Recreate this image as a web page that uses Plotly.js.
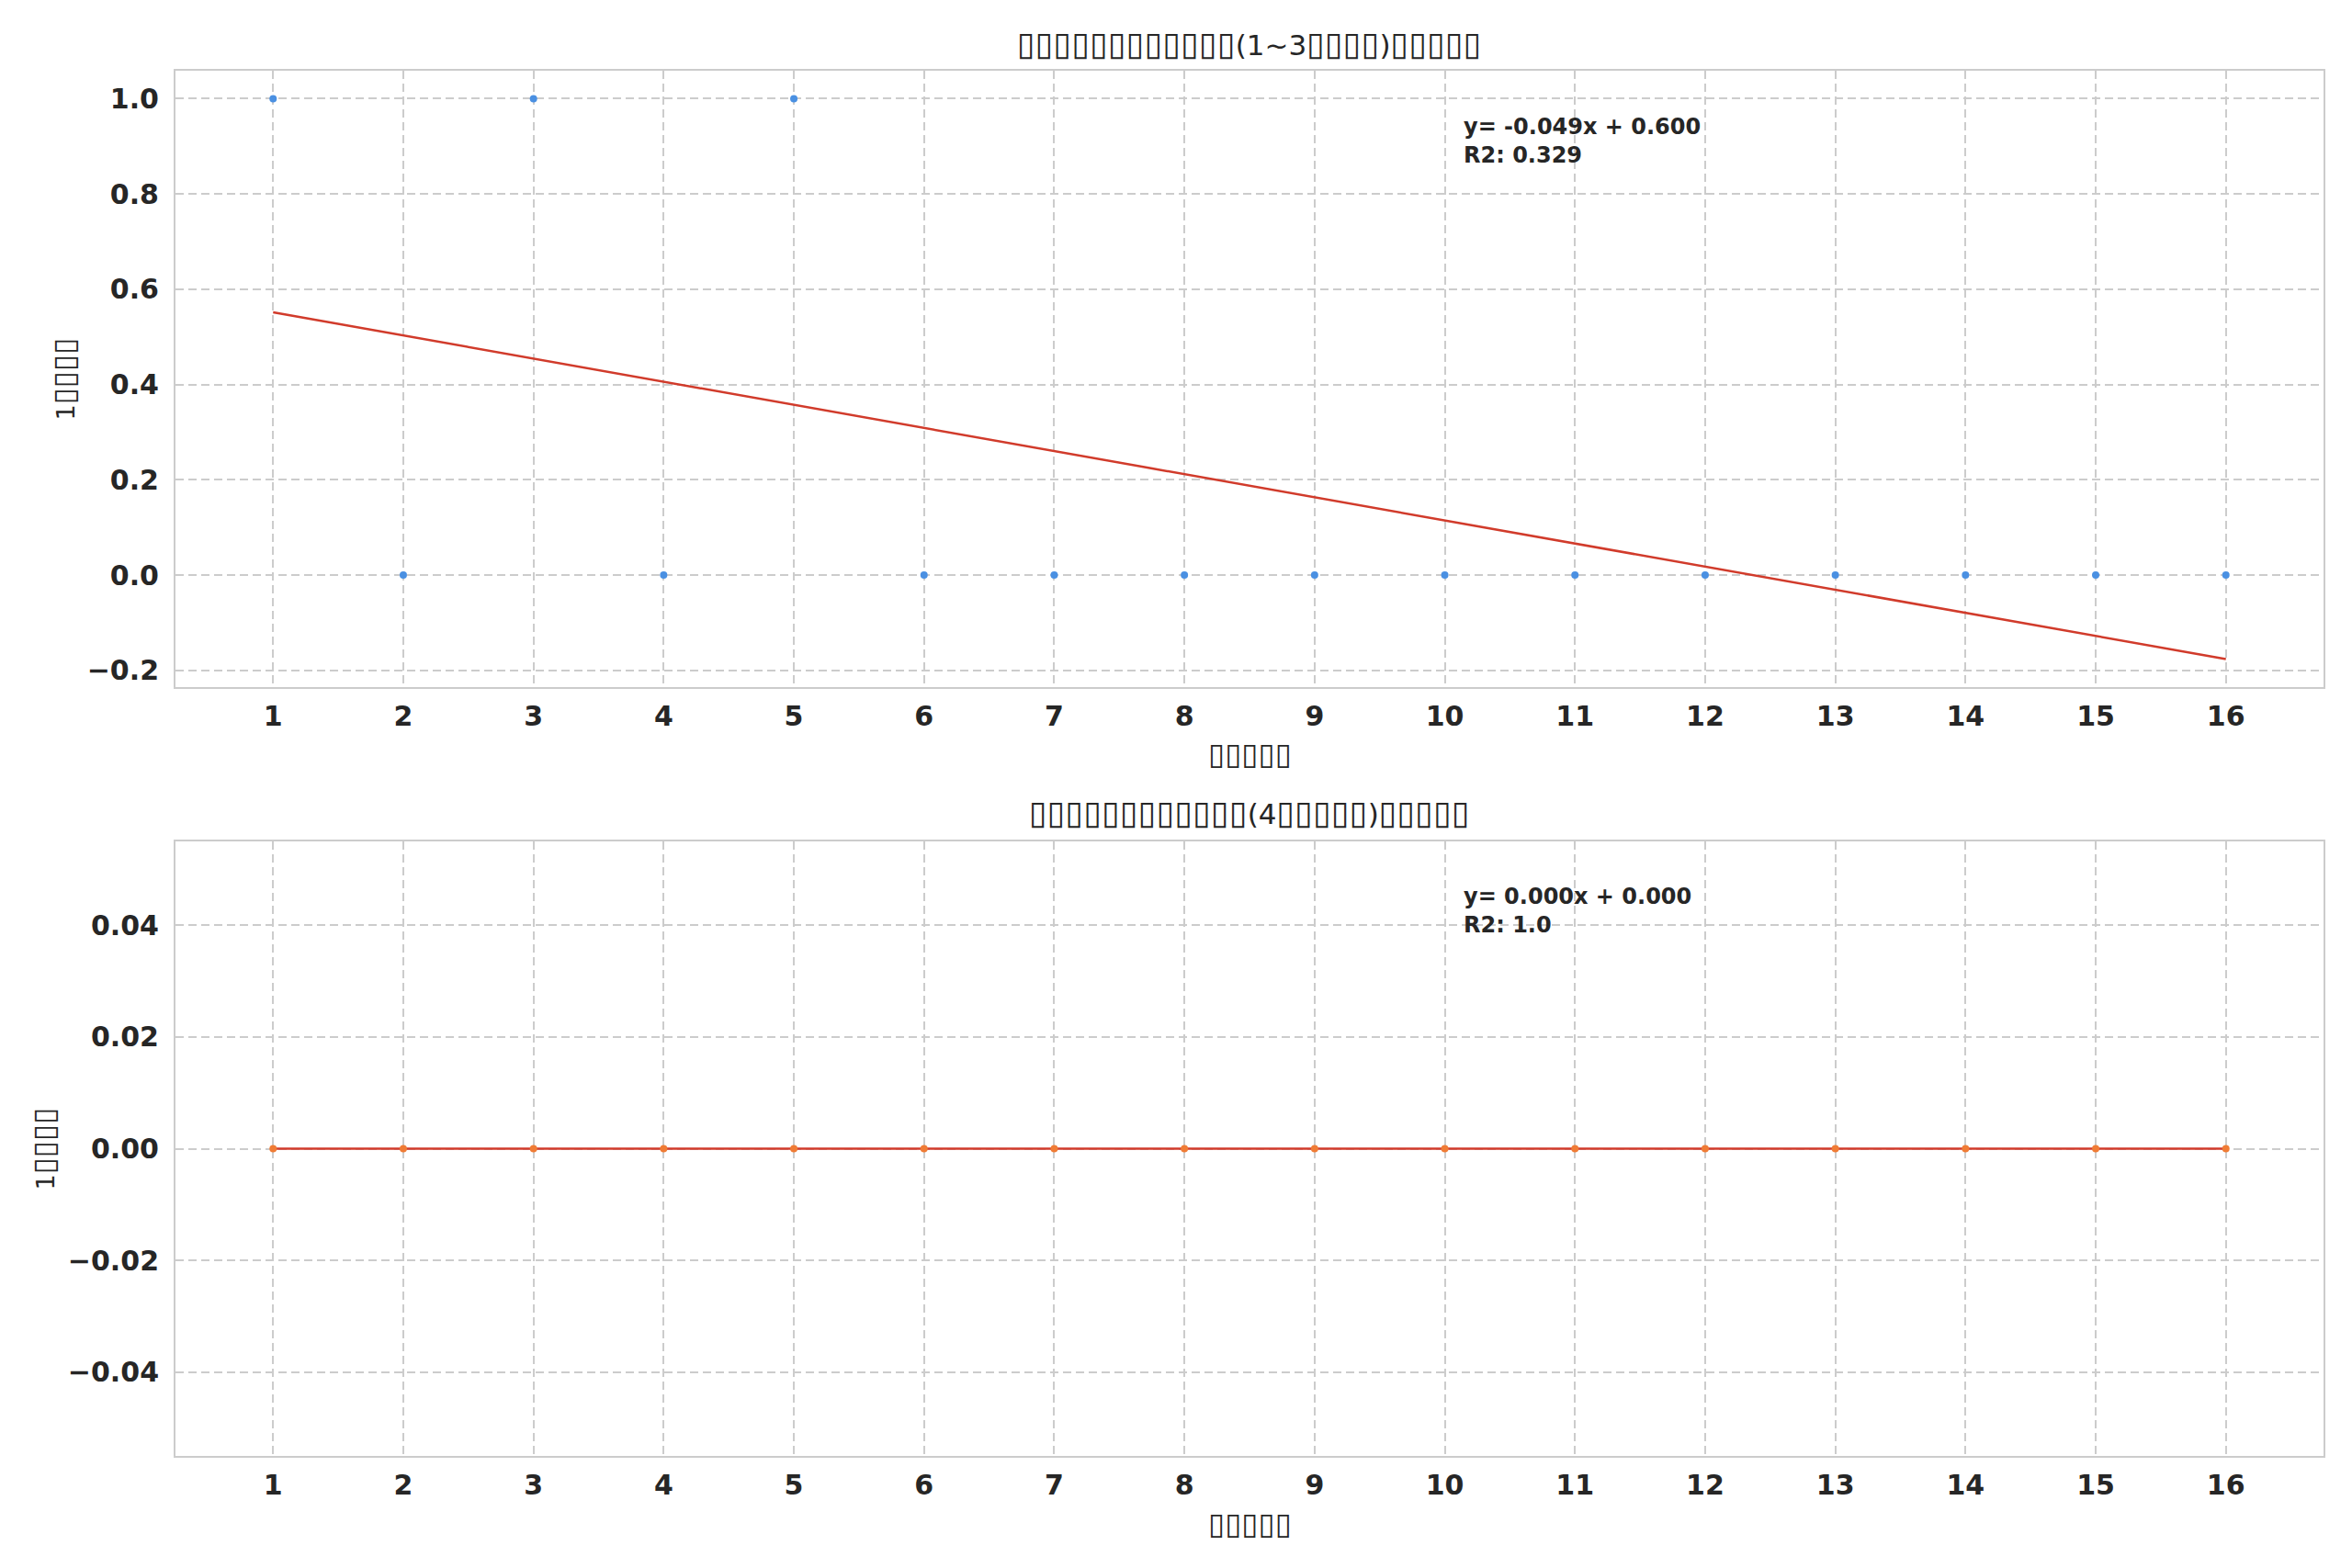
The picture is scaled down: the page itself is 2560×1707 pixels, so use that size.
<!DOCTYPE html>
<html>
<head>
<meta charset="utf-8">
<script src="https://cdn.plot.ly/plotly-3.0.1.min.js"></script>
<style>
  html, body { margin: 0; padding: 0; background: #ffffff; }
  #chart { width: 2560px; height: 1707px; }
</style>
</head>
<body>
<div id="chart"></div>
<script>
// ---------------- data ----------------
const sessions = [1, 2, 3, 4, 5, 6, 7, 8, 9, 10, 11, 12, 13, 14, 15, 16];
const rateGroupA = [1, 0, 1, 0, 1, 0, 0, 0, 0, 0, 0, 0, 0, 0, 0, 0];
const rateGroupB = [0, 0, 0, 0, 0, 0, 0, 0, 0, 0, 0, 0, 0, 0, 0, 0];

const titleA = '▯▯▯▯▯▯▯▯▯▯▯▯(1~3▯▯▯▯)▯▯▯▯▯';
const titleB = '▯▯▯▯▯▯▯▯▯▯▯▯(4▯▯▯▯▯)▯▯▯▯▯';
const xLabel = '▯▯▯▯▯';
const yLabel = '1▯▯▯▯';

const xTickVals = sessions;
const xTickText = sessions.map(String);
const yTickValsA = [-0.2, 0.0, 0.2, 0.4, 0.6, 0.8, 1.0];
const yTickTextA = ['\u22120.2', '0.0', '0.2', '0.4', '0.6', '0.8', '1.0'];
const yTickValsB = [-0.04, -0.02, 0.0, 0.02, 0.04];
const yTickTextB = ['\u22120.04', '\u22120.02', '0.00', '0.02', '0.04'];

// ---------------- least squares fit ----------------
function fit(x, y) {
  const n = x.length;
  const mx = x.reduce((a, b) => a + b, 0) / n;
  const my = y.reduce((a, b) => a + b, 0) / n;
  let sxx = 0, sxy = 0, syy = 0;
  for (let i = 0; i < n; i++) {
    sxx += (x[i] - mx) ** 2;
    sxy += (x[i] - mx) * (y[i] - my);
    syy += (y[i] - my) ** 2;
  }
  const slope = sxx ? sxy / sxx : 0;
  const intercept = my - slope * mx;
  const r2 = syy === 0 ? 1 : (sxy * sxy) / (sxx * syy);
  return { slope, intercept, r2 };
}
function fmtR2(r2) {
  const r = Math.round(r2 * 1000) / 1000;
  return Number.isInteger(r) ? r.toFixed(1) : String(r);
}
function fitLabel(f) {
  const s = (Math.abs(f.slope) < 5e-4 ? 0 : f.slope).toFixed(3);
  const c = (Math.abs(f.intercept) < 5e-4 ? 0 : f.intercept).toFixed(3);
  return 'y= ' + s + 'x + ' + c + '<br>R2: ' + fmtR2(f.r2);
}
const fitA = fit(sessions, rateGroupA);
const fitB = fit(sessions, rateGroupB);

// enlarge the placeholder boxes so they match the reference glyph boxes
function boxes(str, size) {
  return str.replace(/(▯+)/g, '<span style="font-size:' + size + 'px">$1</span>');
}

// ---------------- styling ----------------
const W = 2560, H = 1707;
const TXT = '#262626';
const GRID = '#cccccc';
const FONT = 'DejaVu Sans';
const px = v => v / W;
const py = v => 1 - v / H;

const axL = 191, axR = 2529;
const topA = 77, botA = 748, topB = 916, botB = 1585;

const traces = [
  {
    x: sessions, y: rateGroupA, type: 'scatter', mode: 'markers',
    marker: { color: '#4a90e2', size: 8 }, xaxis: 'x', yaxis: 'y',
    cliponaxis: false, showlegend: false
  },
  {
    x: sessions, y: sessions.map(v => fitA.slope * v + fitA.intercept),
    type: 'scatter', mode: 'lines',
    line: { color: '#d13b2b', width: 2.5 }, xaxis: 'x', yaxis: 'y',
    showlegend: false
  },
  {
    x: sessions, y: sessions.map(v => fitB.slope * v + fitB.intercept),
    type: 'scatter', mode: 'lines',
    line: { color: '#d13b2b', width: 2.5 }, xaxis: 'x2', yaxis: 'y2',
    showlegend: false
  },
  {
    x: sessions, y: rateGroupB, type: 'scatter', mode: 'markers',
    marker: { color: '#f07c35', size: 8 }, xaxis: 'x2', yaxis: 'y2',
    cliponaxis: false, showlegend: false
  }
];

function xAxis(anchor) {
  return {
    domain: [px(axL), px(axR)], anchor: anchor, range: [0.25, 16.75],
    tickmode: 'array', tickvals: xTickVals, ticktext: xTickText,
    tickfont: { family: FONT, size: 30, color: TXT, weight: 'bold' },
    ticks: '', ticklabelstandoff: 4,
    showgrid: true, gridcolor: GRID, gridwidth: 2, griddash: '9px,5px',
    showline: true, linecolor: GRID, linewidth: 2, mirror: true,
    zeroline: false, fixedrange: true
  };
}
function yAxis(anchor, dom, range, vals, text) {
  return {
    domain: dom, anchor: anchor, range: range,
    tickmode: 'array', tickvals: vals, ticktext: text,
    tickfont: { family: FONT, size: 30, color: TXT, weight: 'bold' },
    ticks: '', ticklabelstandoff: 10,
    showgrid: true, gridcolor: GRID, gridwidth: 2, griddash: '9px,5px',
    showline: true, linecolor: GRID, linewidth: 2, mirror: true,
    zeroline: false, fixedrange: true
  };
}

const titleFont = { family: FONT, size: 31, color: TXT };
const labelFont = { family: FONT, size: 27, color: TXT };
const fitFont = { family: FONT, size: 24, color: TXT, weight: 'bold' };
const cx = px((axL + axR) / 2);

const annotations = [
  { text: boxes(titleA, 36), x: cx, y: py(47), xref: 'paper', yref: 'paper', xanchor: 'center', yanchor: 'middle', showarrow: false, font: titleFont },
  { text: boxes(titleB, 36), x: cx, y: py(884), xref: 'paper', yref: 'paper', xanchor: 'center', yanchor: 'middle', showarrow: false, font: titleFont },
  { text: boxes(xLabel, 33), x: cx, y: py(820), xref: 'paper', yref: 'paper', xanchor: 'center', yanchor: 'middle', showarrow: false, font: labelFont },
  { text: boxes(xLabel, 33), x: cx, y: py(1658), xref: 'paper', yref: 'paper', xanchor: 'center', yanchor: 'middle', showarrow: false, font: labelFont },
  { text: boxes(yLabel, 33), x: px(69), y: py((topA + botA) / 2), xref: 'paper', yref: 'paper', xanchor: 'center', yanchor: 'middle', textangle: -90, showarrow: false, font: labelFont },
  { text: boxes(yLabel, 33), x: px(47), y: py((topB + botB) / 2), xref: 'paper', yref: 'paper', xanchor: 'center', yanchor: 'middle', textangle: -90, showarrow: false, font: labelFont },
  { text: fitLabel(fitA), x: 0.5987, y: 0.9336, xref: 'x domain', yref: 'y domain', xanchor: 'left', yanchor: 'top', align: 'left', showarrow: false, font: fitFont },
  { text: fitLabel(fitB), x: 0.5987, y: 0.9336, xref: 'x2 domain', yref: 'y2 domain', xanchor: 'left', yanchor: 'top', align: 'left', showarrow: false, font: fitFont }
];

const layout = {
  width: W, height: H,
  margin: { l: 0, r: 0, t: 0, b: 0 },
  paper_bgcolor: '#ffffff', plot_bgcolor: '#ffffff',
  showlegend: false,
  font: { family: FONT, color: TXT },
  xaxis: xAxis('y'),
  yaxis: yAxis('x', [py(botA), py(topA)], [-0.2353, 1.0588], yTickValsA, yTickTextA),
  xaxis2: xAxis('y2'),
  yaxis2: yAxis('x2', [py(botB), py(topB)], [-0.055, 0.055], yTickValsB, yTickTextB),
  annotations: annotations
};

Plotly.newPlot('chart', traces, layout, { displayModeBar: false, staticPlot: true });
</script>
</body>
</html>
